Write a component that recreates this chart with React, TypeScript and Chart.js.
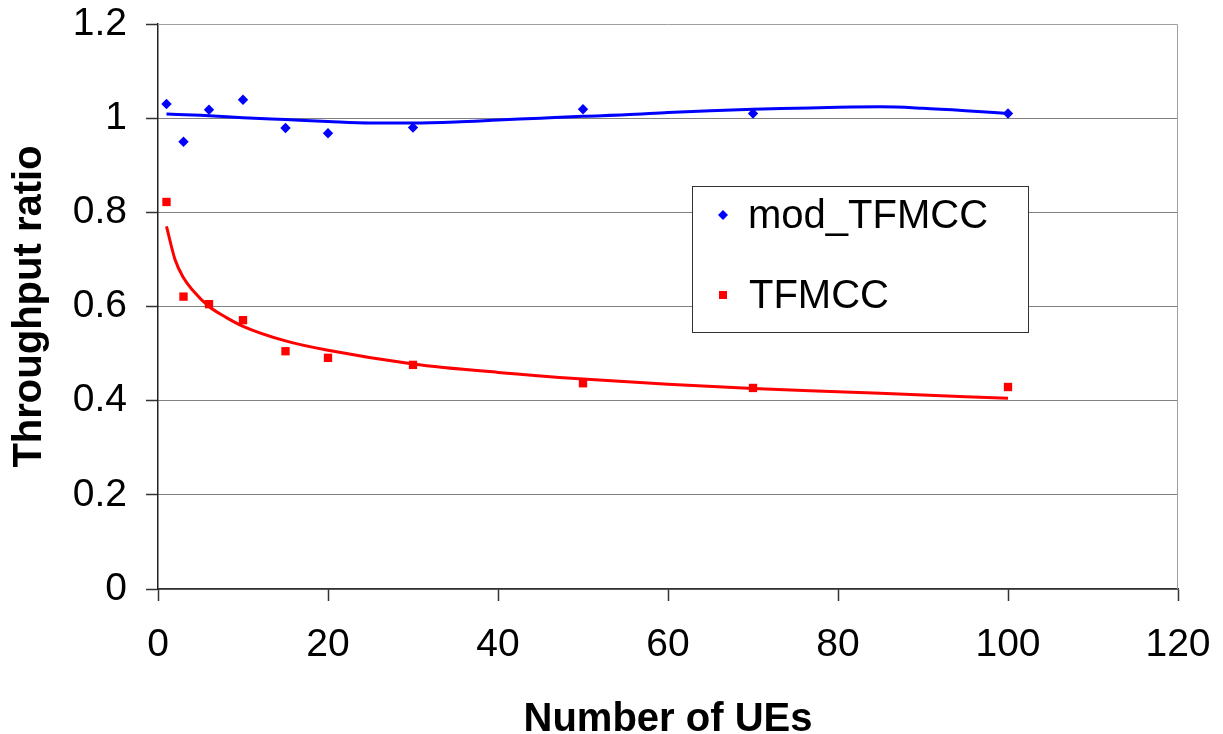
import React, { useEffect, useRef } from "react";
import { Chart, registerables } from "chart.js";

Chart.register(...registerables);

// ---- data ----
const ueCounts = [1, 3, 6, 10, 15, 20, 30, 50, 70, 100];
const modTfmccRatio = [1.03, 0.95, 1.018, 1.039, 0.979, 0.968, 0.98, 1.019, 1.01, 1.01];
const tfmccRatio = [0.822, 0.621, 0.605, 0.571, 0.505, 0.491, 0.476, 0.437, 0.427, 0.429];

// trend curves
const modTrendX = [1, 5, 10, 15, 20, 25, 30, 35, 40, 45, 50, 55, 60, 65, 70, 75, 80, 85, 90, 95, 100];
const modTrendY = [1.009, 1.006, 1.001, 0.997, 0.993, 0.99, 0.99, 0.992, 0.996, 1.0, 1.004, 1.007, 1.012, 1.016, 1.019, 1.021, 1.023, 1.024, 1.021, 1.016, 1.01];
const tfmccTrendX = [1, 2, 3, 4, 6, 8, 10, 15, 20, 30, 40, 50, 60, 70, 80, 90, 100];
const tfmccTrendY = [0.77, 0.7, 0.661, 0.636, 0.6, 0.577, 0.558, 0.527, 0.507, 0.478, 0.46, 0.446, 0.435, 0.426, 0.419, 0.412, 0.405];

const xTickLabels = ["0", "20", "40", "60", "80", "100", "120"];
const yTickLabels = ["0", "0.2", "0.4", "0.6", "0.8", "1", "1.2"];
const seriesNames = ["mod_TFMCC", "TFMCC"];

const FONT = '"Liberation Sans", Arial, sans-serif';
const BLUE = "#0000ff";
const RED = "#ff0000";

const pts = (xs: number[], ys: number[]) => xs.map((x, i) => ({ x, y: ys[i] }));

const framePlugin = {
  id: "frame",
  beforeDatasetsDraw(chart: any) {
    const { ctx, chartArea } = chart;
    ctx.save();
    ctx.strokeStyle = "#a0a0a0";
    ctx.lineWidth = 1;
    ctx.beginPath();
    ctx.moveTo(chartArea.left, Math.round(chartArea.top) + 0.5);
    ctx.lineTo(Math.round(chartArea.right) - 0.5, Math.round(chartArea.top) + 0.5);
    ctx.lineTo(Math.round(chartArea.right) - 0.5, chartArea.bottom);
    ctx.stroke();
    ctx.restore();
  },
};

const boxLegendPlugin = {
  id: "boxLegend",
  afterDraw(chart: any) {
    const { ctx } = chart;
    const bx = 692, by = 186, bw = 336, bh = 146;
    ctx.save();
    ctx.fillStyle = "#ffffff";
    ctx.fillRect(bx, by, bw, bh);
    ctx.strokeStyle = "#333333";
    ctx.lineWidth = 1;
    ctx.strokeRect(bx + 0.5, by + 0.5, bw, bh);
    ctx.font = `40px ${FONT}`;
    ctx.textBaseline = "alphabetic";
    ctx.textAlign = "left";
    const mx = 723;
    ctx.fillStyle = BLUE;
    ctx.beginPath();
    ctx.moveTo(mx - 5, 215);
    ctx.lineTo(mx, 210);
    ctx.lineTo(mx + 5, 215);
    ctx.lineTo(mx, 220);
    ctx.closePath();
    ctx.fill();
    ctx.fillStyle = "#000000";
    ctx.fillText(seriesNames[0], 748, 228);
    ctx.fillStyle = RED;
    ctx.fillRect(mx - 4, 291, 8, 8);
    ctx.fillStyle = "#000000";
    ctx.fillText(seriesNames[1], 749, 308);
    ctx.restore();
  },
};

export default function App() {
  const ref = useRef<HTMLCanvasElement | null>(null);

  useEffect(() => {
    if (!ref.current) return;
    const chart = new Chart(ref.current, {
      type: "scatter",
      data: {
        datasets: [
          {
            label: "mod trend",
            data: pts(modTrendX, modTrendY),
            showLine: true,
            borderColor: BLUE,
            borderWidth: 3,
            pointRadius: 0,
            cubicInterpolationMode: "monotone",
            order: 3,
          },
          {
            label: "tfmcc trend",
            data: pts(tfmccTrendX, tfmccTrendY),
            showLine: true,
            borderColor: RED,
            borderWidth: 3,
            pointRadius: 0,
            cubicInterpolationMode: "monotone",
            order: 4,
          },
          {
            label: seriesNames[0],
            data: pts(ueCounts, modTfmccRatio),
            pointStyle: "rectRot",
            pointRadius: 5.2,
            pointBorderWidth: 0,
            backgroundColor: BLUE,
            borderColor: BLUE,
            order: 1,
          },
          {
            label: seriesNames[1],
            data: pts(ueCounts, tfmccRatio),
            pointStyle: "rect",
            pointRadius: 5.9,
            pointBorderWidth: 0,
            backgroundColor: RED,
            borderColor: RED,
            order: 2,
          },
        ],
      } as any,
      options: {
        animation: false,
        responsive: false,
        devicePixelRatio: 1,
        layout: { padding: { top: 24, right: 45, left: 0, bottom: 0 } },
        plugins: {
          legend: { display: false },
          tooltip: { enabled: false },
        },
        scales: {
          x: {
            type: "linear",
            min: 0,
            max: 120,
            ticks: {
              stepSize: 20,
              color: "#000",
              font: { family: FONT, size: 39 },
              padding: 21,
              callback: (_v: any, i: number) => xTickLabels[i],
            },
            grid: {
              drawOnChartArea: false,
              tickLength: 12,
              tickColor: "#333",
              tickWidth: 1.5,
            },
            border: { color: "#333", width: 1.5 },
            title: {
              display: true,
              text: "Number of UEs",
              color: "#000",
              font: { family: FONT, size: 40, weight: "bold" },
              padding: { top: 0, bottom: -10 },
            },
            afterFit: (s: any) => {
              s.height = 145;
              s.paddingLeft = 0;
              s.paddingRight = 0;
            },
          },
          y: {
            type: "linear",
            min: 0,
            max: 1.2,
            ticks: {
              stepSize: 0.2,
              color: "#000",
              font: { family: FONT, size: 39 },
              padding: 19,
              callback: (_v: any, i: number) => yTickLabels[i],
            },
            grid: {
              color: (c: any) => (c.index === 6 ? "rgba(0,0,0,0)" : "#000"),
              lineWidth: 1,
              tickLength: 12,
              tickColor: "#333",
              tickWidth: 1.5,
            },
            border: { color: "#222", width: 1.5, dash: [1, 1] },
            title: {
              display: true,
              text: "Throughput ratio",
              color: "#000",
              font: { family: FONT, size: 40, weight: "bold" },
              padding: { top: 6, bottom: 0 },
            },
            afterFit: (s: any) => {
              s.width = 158;
              s.paddingTop = 0;
              s.paddingBottom = 0;
            },
          },
        },
      } as any,
      plugins: [framePlugin, boxLegendPlugin],
    });
    return () => chart.destroy();
  }, []);

  return (
    <div style={{ position: "absolute", left: 0, top: 0, width: 1223, height: 734, background: "#fff" }}>
      <canvas ref={ref} width={1223} height={734} />
    </div>
  );
}
